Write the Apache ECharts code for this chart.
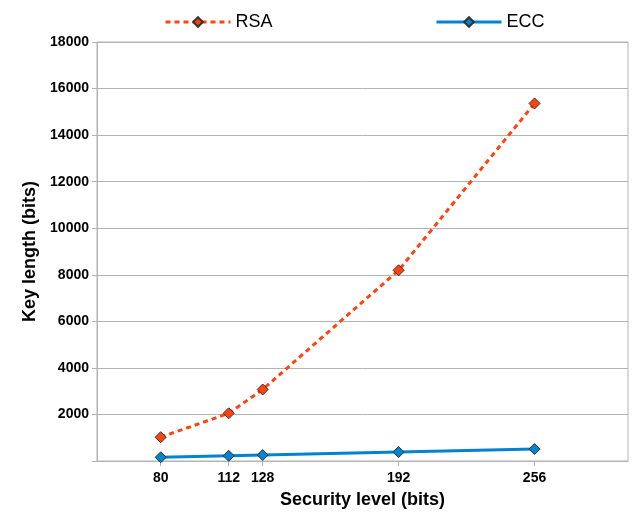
<!DOCTYPE html>
<html><head><meta charset="utf-8">
<script src="https://cdn.jsdelivr.net/npm/echarts@6/dist/echarts.min.js"></script>
<style>html,body{margin:0;padding:0;background:#fff}#c{width:634px;height:514px}</style>
</head><body><div id="c"></div>
<script>
var securityLevels = [80, 112, 128, 192, 256];
var rsaKeyLength = [1024, 2048, 3072, 8192, 15360];
var eccKeyLength = [160, 224, 256, 384, 512];
var yTickLabels = [2000, 4000, 6000, 8000, 10000, 12000, 14000, 16000, 18000];

function pairs(xs, ys) { return xs.map(function (x, i) { return [x, ys[i]]; }); }

var chart = echarts.init(document.getElementById('c'));
var font = 'Liberation Sans, Arial, sans-serif';
chart.setOption({
  animation: false,
  legend: [
    { data: ['RSA'], left: 164, top: 13, padding: 0, itemWidth: 65, itemHeight: 12, itemGap: 10,
      lineStyle: { width: 3 },
      textStyle: { fontFamily: font, fontSize: 18, color: '#000' } },
    { data: ['ECC'], left: 435, top: 13, padding: 0, itemWidth: 65, itemHeight: 12, itemGap: 10,
      lineStyle: { width: 3 },
      textStyle: { fontFamily: font, fontSize: 18, color: '#000' } }
  ],
  grid: { left: 97, right: 6, top: 42, bottom: 50, show: true, borderColor: '#b3b3b3', borderWidth: 1 },
  xAxis: {
    type: 'value', min: 50, max: 300,
    name: 'Security level (bits)', nameLocation: 'middle', nameGap: 30,
    nameTextStyle: { fontFamily: font, fontSize: 18, fontWeight: 'bold', color: '#000' },
    axisLine: { lineStyle: { color: '#b3b3b3' } },
    axisTick: { show: true, length: 5, lineStyle: { color: '#b3b3b3' }, customValues: securityLevels },
    axisLabel: { customValues: securityLevels, fontFamily: font, fontSize: 14, fontWeight: 'bold', color: '#000', margin: 10,
      formatter: function (v) { return String(v); } },
    splitLine: { show: false }
  },
  yAxis: {
    type: 'value', min: 0, max: 18000, interval: 2000,
    name: 'Key length (bits)', nameLocation: 'middle', nameGap: 58, nameRotate: 90,
    nameTextStyle: { fontFamily: font, fontSize: 18, fontWeight: 'bold', color: '#000' },
    axisLine: { show: true, lineStyle: { color: '#b3b3b3' } },
    axisTick: { show: true, length: 5, lineStyle: { color: '#b3b3b3' } },
    axisLabel: { customValues: yTickLabels, fontFamily: font, fontSize: 14, fontWeight: 'bold', color: '#000', margin: 8,
      formatter: function (v) { return String(v); } },
    splitLine: { show: true, lineStyle: { color: '#b3b3b3', width: 1 } }
  },
  series: [
    { name: 'RSA', type: 'line', data: pairs(securityLevels, rsaKeyLength),
      symbol: 'diamond', symbolSize: 11, showAllSymbol: true,
      lineStyle: { color: '#ff420e', width: 3, type: [5, 4] },
      itemStyle: { color: '#ff420e', borderColor: '#333', borderWidth: 1 } },
    { name: 'ECC', type: 'line', data: pairs(securityLevels, eccKeyLength),
      symbol: 'diamond', symbolSize: 11, showAllSymbol: true,
      lineStyle: { color: '#0084d1', width: 3 },
      itemStyle: { color: '#0084d1', borderColor: '#333', borderWidth: 1 } }
  ]
});
</script></body></html>
